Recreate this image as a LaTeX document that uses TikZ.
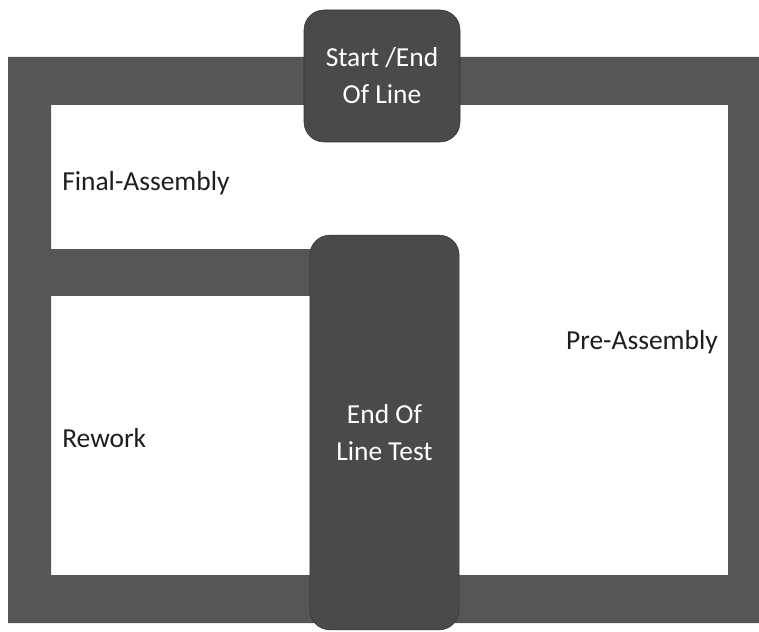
\documentclass[tikz,border=0pt]{standalone}
\usepackage{fontspec}
\setmainfont{Carlito}
\usepackage{tikz}
\usetikzlibrary{positioning}
\usepackage{xcolor}
\definecolor{band}{HTML}{565656}
\definecolor{post}{HTML}{4a4a4a}
\definecolor{ink}{HTML}{1e1e1e}

\begin{document}
\begin{tikzpicture}[x=0.75pt, y=-0.75pt, font=\fontsize{20.6}{27.75}\selectfont,
  station/.style={rounded corners=15pt, fill=post, draw=black!80, text=white, align=center, inner sep=0pt},
  area/.style={text=ink, inner sep=0pt}]
\useasboundingbox (0,0) rectangle (759,631);
\fill[white] (0,0) rectangle (759,631);
% line frame and rework bar
\fill[band, even odd rule] (8,57) rectangle (759,623) (51,105) rectangle (728,575);
\fill[band] (8,249) rectangle (320,296);
\node[station, minimum width=117pt, minimum height=99pt] (startend) at (382,76) {Start /End\\Of Line};
\node[station, minimum width=112pt, minimum height=296pt] (eolt) at (384.5,432.5) {End Of\\Line Test};
\node[area, anchor=west] (final) at (62,183) {Final-Assembly};
\node[area, anchor=west] (rework) at (62,438) {Rework};
\node[area, anchor=east] (pre) at (718,342) {Pre-Assembly};
\end{tikzpicture}
\end{document}
